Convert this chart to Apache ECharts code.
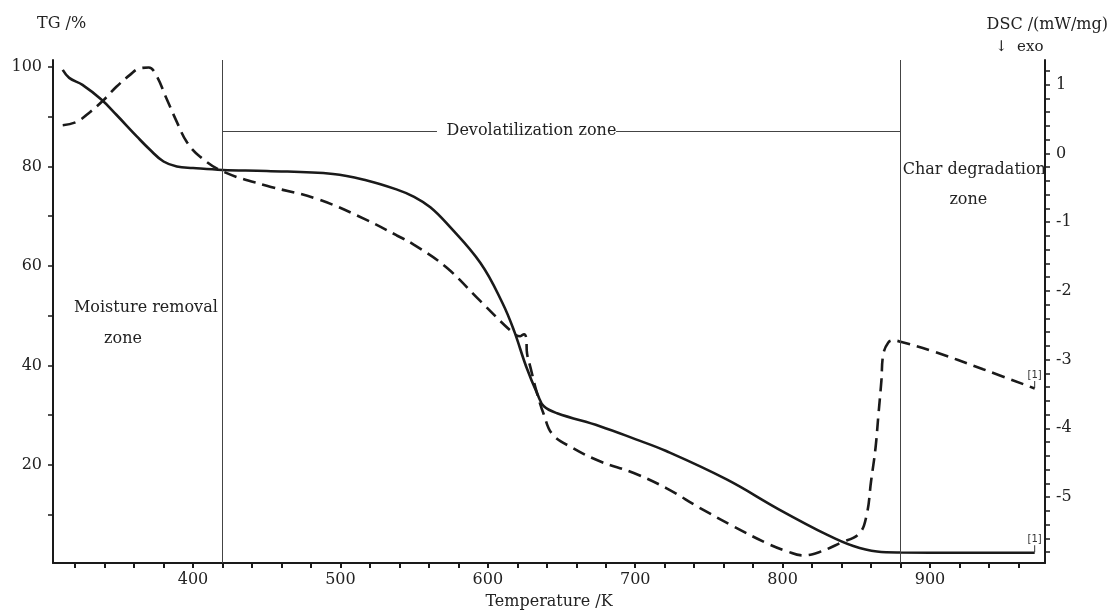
<!DOCTYPE html>
<html>
<head>
<meta charset="utf-8">
<script src="https://cdn.jsdelivr.net/npm/echarts@6/dist/echarts.min.js"></script>
<style>html,body{margin:0;padding:0;background:#fff}#c{width:1112px;height:612px}</style>
</head>
<body>
<div id="c"></div>
<script>
// TG curve (left axis, %)
var tgTemp = [311.6, 316, 325, 338, 348, 362, 371, 380, 389, 400, 420, 450, 495, 518, 538, 550, 561, 572, 595, 610, 618, 626, 634, 638, 647, 676, 700, 721, 762, 798, 830, 848, 864, 880, 920, 971];
var tgValue = [99.4, 97.8, 96.4, 93.4, 90.4, 86.0, 83.3, 81.0, 80.0, 79.7, 79.3, 79.1, 78.5, 77.2, 75.4, 73.9, 71.8, 68.6, 60.6, 52.5, 46.8, 39.8, 34.0, 31.8, 30.4, 27.8, 25.2, 22.8, 17.1, 11.0, 6.0, 3.7, 2.6, 2.4, 2.35, 2.35];
// DSC curve (right axis, mW/mg)
var dscTemp = [311.6, 321, 330, 339, 348, 357, 364, 370, 375, 382, 389, 396, 405, 421, 450, 484, 518, 538, 550, 572, 595, 617, 622, 624.6, 626, 626.6, 629, 633, 638, 644, 658, 676, 699, 721, 744, 767, 789, 803, 814, 825, 839, 852, 857, 860, 863, 865, 867, 868.3, 871.7, 875, 880, 902, 936, 971];
var dscValue = [0.41, 0.46, 0.60, 0.77, 0.97, 1.14, 1.24, 1.25, 1.14, 0.80, 0.46, 0.16, -0.05, -0.27, -0.47, -0.66, -0.97, -1.19, -1.33, -1.66, -2.15, -2.61, -2.66, -2.63, -2.68, -2.91, -3.12, -3.46, -3.80, -4.09, -4.29, -4.48, -4.65, -4.87, -5.16, -5.43, -5.67, -5.79, -5.85, -5.80, -5.67, -5.53, -5.26, -4.77, -4.29, -3.80, -3.31, -2.92, -2.75, -2.72, -2.74, -2.88, -3.14, -3.42];
// ticks / labels
var xTicks = [320,340,360,380,400,420,440,460,480,500,520,540,560,580,600,620,640,660,680,700,720,740,760,780,800,820,840,860,880,900,920,940,960];
var xLabels = [400, 500, 600, 700, 800, 900];
var tgTicks = [10,20,30,40,50,60,70,80,90,100];
var tgLabels = [20, 40, 60, 80, 100];
var dscTicks = [-5.8,-5.6,-5.4,-5.2,-5,-4.8,-4.6,-4.4,-4.2,-4,-3.8,-3.6,-3.4,-3.2,-3,-2.8,-2.6,-2.4,-2.2,-2,-1.8,-1.6,-1.4,-1.2,-1,-0.8,-0.6,-0.4,-0.2,0,0.2,0.4,0.6,0.8,1,1.2];
var dscLabels = [-5, -4, -3, -2, -1, 0, 1];
// zone boundaries and annotations
var zoneBounds = [420, 880];
var devolY = 87.1;
var devolGap = [565.5, 687];

var FONT = 'DejaVu Serif';
var INK = '#1a1a1a';

function pairs(xs, ys){ return xs.map(function(x,i){ return [x, ys[i]]; }); }
var tgData = pairs(tgTemp, tgValue);
var dscData = pairs(dscTemp, dscValue);

var chart = echarts.init(document.getElementById('c'));
var axisLineStyle = {color: INK, width: 2};
var labelStyle = {color: '#222', fontFamily: FONT, fontSize: 16};

function textPoint(txt, x, y){
  return {coord: [x, y], symbol: 'circle', symbolSize: 1, itemStyle: {color: 'rgba(0,0,0,0)'},
          label: {show: true, formatter: txt, position: 'inside', color: '#222', fontFamily: FONT, fontSize: 16}};
}

chart.setOption({
  animation: false,
  backgroundColor: '#fff',
  grid: {left: 53, right: 67, top: 60, bottom: 49, containLabel: false, outerBoundsMode: 'none'},
  xAxis: {
    type: 'value', min: 305, max: 978,
    name: 'Temperature /K', nameLocation: 'middle', nameGap: 31,
    nameTextStyle: {color: '#222', fontFamily: FONT, fontSize: 16},
    axisLine: {show: true, onZero: false, lineStyle: axisLineStyle},
    axisTick: {show: true, length: 5, inside: false, customValues: xTicks, lineStyle: {color: INK, width: 2}},
    axisLabel: Object.assign({customValues: xLabels, margin: 9}, labelStyle),
    splitLine: {show: false}
  },
  yAxis: [{
    type: 'value', min: 0.3, max: 101.4, position: 'left',
    axisLine: {show: true, onZero: false, lineStyle: axisLineStyle},
    axisTick: {show: true, length: 5, customValues: tgTicks, lineStyle: {color: INK, width: 1.5}},
    axisLabel: Object.assign({customValues: tgLabels, margin: 11}, labelStyle),
    splitLine: {show: false}
  }, {
    type: 'value', min: -5.96, max: 1.36, position: 'right',
    axisLine: {show: true, onZero: false, lineStyle: axisLineStyle},
    axisTick: {show: true, length: 5, customValues: dscTicks, lineStyle: {color: INK, width: 1.5}},
    axisLabel: Object.assign({customValues: dscLabels, margin: 11}, labelStyle),
    splitLine: {show: false}
  }],
  graphic: [
    {type: 'text', left: 37, top: 16, style: {text: 'TG /%', font: '16px "' + FONT + '"', fill: '#222'}},
    {type: 'text', right: 4, top: 17, style: {text: 'DSC /(mW/mg)', font: '16px "' + FONT + '"', fill: '#222'}},
    {type: 'text', left: 995, top: 40, style: {text: '\u2193  exo', font: '15px "' + FONT + '"', fill: '#222'}}
  ],
  series: [{
    name: 'TG', type: 'line', yAxisIndex: 0, data: tgData,
    smooth: 0.4, showSymbol: false, symbol: 'none',
    lineStyle: {color: INK, width: 2.6}, z: 3,
    markLine: {
      silent: true, symbol: 'none', label: {show: false},
      lineStyle: {color: '#444', width: 1, type: 'solid'},
      data: [
        {xAxis: zoneBounds[0]},
        {xAxis: zoneBounds[1]},
        [{coord: [zoneBounds[0], devolY]}, {coord: [devolGap[0], devolY]}],
        [{coord: [devolGap[1], devolY]}, {coord: [zoneBounds[1], devolY]}]
      ]
    },
    markPoint: {
      silent: true,
      data: [
        textPoint('Devolatilization zone', 629.6, devolY),
        textPoint('Moisture removal', 368, 51.6),
        textPoint('zone', 352.5, 45.4),
        textPoint('Char degradation', 930, 79.3),
        textPoint('zone', 926, 73.3),
        {coord: [tgTemp[tgTemp.length-1], tgValue[tgValue.length-1]], symbol: 'rect', symbolSize: [1, 7], symbolOffset: [0, -4], itemStyle: {color: '#333'},
         label: {show: true, formatter: '[1]', position: 'top', distance: 1, fontSize: 10, fontFamily: 'DejaVu Sans', color: '#333'}}
      ]
    }
  }, {
    name: 'DSC', type: 'line', yAxisIndex: 1, data: dscData,
    smooth: 0.4, showSymbol: false, symbol: 'none',
    lineStyle: {color: INK, width: 2.6, type: [13, 7]}, z: 3,
    markPoint: {
      silent: true,
      data: [
        {coord: [dscTemp[dscTemp.length-1], dscValue[dscValue.length-1]], symbol: 'rect', symbolSize: [1, 7], symbolOffset: [0, -4], itemStyle: {color: '#333'},
         label: {show: true, formatter: '[1]', position: 'top', distance: 1, fontSize: 10, fontFamily: 'DejaVu Sans', color: '#333'}}
      ]
    }
  }]
});
</script>
</body>
</html>
